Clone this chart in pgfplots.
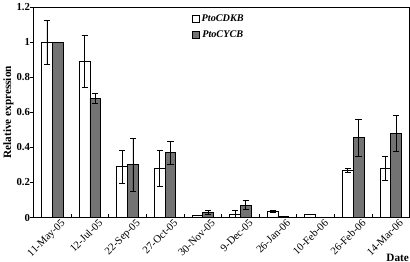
\documentclass[border=0pt]{standalone}
\usepackage{pgfplots}
\pgfplotsset{compat=1.18}
\usepackage{fontspec}
\setmainfont{Liberation Serif}
\begin{document}
\begin{tikzpicture}
\begin{axis}[
  width=368pt, height=206pt, scale only axis,
  xmin=-0.5, xmax=9.5, ymin=0, ymax=1.2,
  ybar, bar width=10.5pt,
  xtick={0,...,9},
  xticklabels={11-May-05,12-Jul-05,22-Sep-05,27-Oct-05,30-Nov-05,9-Dec-05,26-Jan-06,10-Feb-06,26-Feb-06,14-Mar-06},
  x tick label style={rotate=45, anchor=north east, font=\fontsize{10.5}{12}\selectfont, inner sep=0pt, xshift=5pt, yshift=-6pt},
  major x tick style={draw=none},
  minor xtick={0.5,1.5,...,8.5},
  minor x tick style={black, thick},
  minor tick length=3.5pt,
  tick align=inside,
  ytick={0,0.2,...,1.2},
  yticklabels={\textbf{0},\textbf{0.2},\textbf{0.4},\textbf{0.6},\textbf{0.8},\textbf{1},\textbf{1.2}},
  y tick label style={font=\fontsize{10.5}{12}\selectfont\bfseries},
  major y tick style={black, thick, xshift=-3.5pt},
  major tick length=3.5pt,
  ytick pos=left, xtick pos=bottom,
  axis line style={black, thick},
  ylabel={\textbf{Relative expression}},
  ylabel style={font=\fontsize{11}{13}\selectfont, yshift=-4pt},
  xlabel={\textbf{Date}},
  xlabel style={at={(rel axis cs:1,0)}, anchor=north east, yshift=-35pt, xshift=0pt, font=\fontsize{11}{13}\selectfont, inner sep=0.5pt},
  legend style={at={(rel axis cs:0.42,0.975)}, anchor=north west, draw=none, fill=none, font=\fontsize{10}{12}\selectfont\bfseries\itshape, row sep=4pt, inner sep=0pt},
  legend image code/.code={\draw[#1, bar shift=0pt] (0pt,-3.5pt) rectangle (7pt,3.5pt);},
  error bars/error bar style={black, thick},
  error bars/error mark options={rotate=90, mark size=3pt, black, thick},
]
\addplot[fill=white, draw=black, thick, bar shift=-5.25pt,
  error bars/.cd, y dir=both, y explicit]
  coordinates {
  (0,1.0) +- (0,0.125)
  (1,0.89) +- (0,0.15)
  (2,0.29) +- (0,0.095)
  (3,0.28) +- (0,0.10)
  (4,0.01) +- (0,0)
  (5,0.02) +- (0,0.018)
  (6,0.035) +- (0,0.006)
  (7,0.02) +- (0,0)
  (8,0.27) +- (0,0.01)
  (9,0.28) +- (0,0.07)
  };
\addplot[fill=black!55, draw=black, thick, bar shift=5.25pt,
  error bars/.cd, y dir=both, y explicit]
  coordinates {
  (0,1.0) +- (0,0)
  (1,0.68) +- (0,0.03)
  (2,0.30) +- (0,0.15)
  (3,0.37) +- (0,0.065)
  (4,0.03) +- (0,0.01)
  (5,0.07) +- (0,0.025)
  (6,0.008) +- (0,0)
  (7,0.003) +- (0,0)
  (8,0.455) +- (0,0.105)
  (9,0.48) +- (0,0.105)
  };
\legend{PtoCDKB,PtoCYCB}
\end{axis}
\end{tikzpicture}
\end{document}
